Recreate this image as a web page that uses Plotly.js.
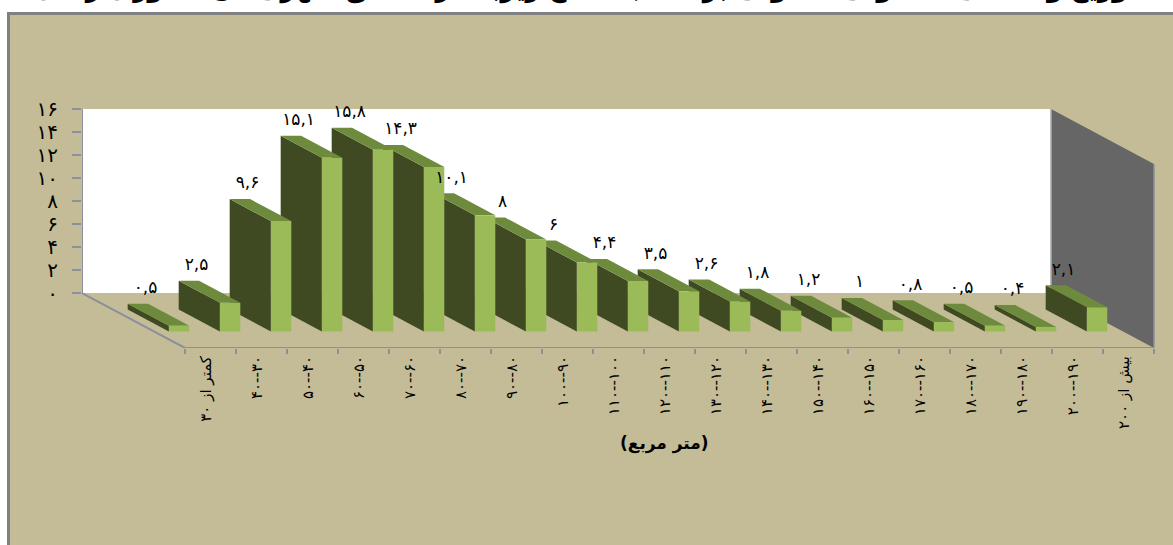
<!DOCTYPE html>
<html>
<head>
<meta charset="utf-8">
<script src="https://cdn.plot.ly/plotly-3.0.1.min.js"></script>
<style>html,body{margin:0;padding:0;background:#fff;overflow:hidden}#chart{width:1173px;height:545px}</style>
</head>
<body>
<div id="chart"></div>
<script>
const categories = ["کمتر از ۳۰","۴۰--۳۰","۵۰--۴۰","۶۰--۵۰","۷۰--۶۰","۸۰--۷۰","۹۰--۸۰","۱۰۰--۹۰","۱۱۰--۱۰۰","۱۲۰--۱۱۰","۱۳۰--۱۲۰","۱۴۰--۱۳۰","۱۵۰--۱۴۰","۱۶۰--۱۵۰","۱۷۰--۱۶۰","۱۸۰--۱۷۰","۱۹۰--۱۸۰","۲۰۰--۱۹۰","بیش از ۲۰۰"];
const values = [0.5,2.5,9.6,15.1,15.8,14.3,10.1,8,6,4.4,3.5,2.6,1.8,1.2,1,0.8,0.5,0.4,2.1];
const valueLabels = ["۰,۵","۲,۵","۹,۶","۱۵,۱","۱۵,۸","۱۴,۳","۱۰,۱","۸","۶","۴,۴","۳,۵","۲,۶","۱,۸","۱,۲","۱","۰,۸","۰,۵","۰,۴","۲,۱"];
const yTickValues = [0,2,4,6,8,10,12,14,16];
const yTickLabels = ["۰","۲","۴","۶","۸","۱۰","۱۲","۱۴","۱۶"];
const chartTitle = "توزیع واحدهای مسکونی معمولی بر حسب سطح زیربنا در مناطق شهری کل کشور (درصد)";
const xAxisTitle = "(متر مربع)";

// oblique projection of the 3D box onto the flat axes
const shearX = 2.02, shearY = 4.78;
const proj = (slot, depth, val) => [slot - (1 - depth) * shearX, val - depth * shearY];
const poly = (pts, color) => ({
  type:"scatter", mode:"lines", x:pts.map(p=>p[0]), y:pts.map(p=>p[1]),
  fill:"toself", fillcolor:color, line:{width:0}, hoverinfo:"skip", showlegend:false
});
const seg = (pts, color, w) => ({
  type:"scatter", mode:"lines", x:pts.map(p=>p[0]), y:pts.map(p=>p[1]),
  line:{color:color,width:w}, hoverinfo:"skip", showlegend:false, cliponaxis:false
});

const n = categories.length, yMax = 16;
const cFront="#9BBB59", cSide="#3F4A22", cTop="#6E8B3D", cWall="#666666", cAxis="#8C8F9C", cBg="#C4BC96";
const traces = [];
traces.push(poly([proj(0,0,0),proj(n,0,0),proj(n,0,yMax),proj(0,0,yMax)],"#FFFFFF"));
traces.push(poly([proj(n,0,0),proj(n,1,0),proj(n,1,yMax),proj(n,0,yMax)],cWall));
traces.push(seg([proj(0,0,yMax),proj(0,0,0),proj(0,1,0),proj(n,1,0)],cAxis,2));
traces.push(seg([proj(n,0,0),proj(n,0,yMax)],"#B0B0B0",1.5));
traces.push(seg([proj(n,1,0),proj(n,1,yMax)],cAxis,1.5));

const x0=0.29, x1=0.69, dB=0.30, dF=0.70;
for (let i=n-1;i>=0;i--){
  const v=values[i], a=i+x0, b=i+x1;
  traces.push(poly([proj(a,dB,0),proj(a,dF,0),proj(a,dF,v),proj(a,dB,v)],cSide));
  traces.push(poly([proj(a,dB,v),proj(b,dB,v),proj(b,dF,v),proj(a,dF,v)],cTop));
  traces.push(poly([proj(a,dF,0),proj(b,dF,0),proj(b,dF,v),proj(a,dF,v)],cFront));
}
// data labels
traces.push({
  type:"scatter", mode:"text", cliponaxis:false, hoverinfo:"skip", showlegend:false,
  x:values.map((v,i)=>proj(i+x0,dB,v)[0]+0.35),
  y:values.map((v,i)=>proj(i+x0,dB,v)[1]+1.3),
  text:valueLabels, textposition:"middle center",
  textfont:{family:"DejaVu Sans",size:17,color:"#000"}
});
// carrier for the category label axis
traces.push({type:"scatter",mode:"markers",x:[0],y:[0],xaxis:"x2",marker:{opacity:0},hoverinfo:"skip",showlegend:false});

const xr=[-shearX,n+0.02], yr=[-shearY,yMax];
const layout = {
  width:1173, height:545,
  margin:{l:82,r:18,t:109,b:197,pad:0},
  paper_bgcolor:"#FFFFFF", plot_bgcolor:"rgba(0,0,0,0)",
  showlegend:false,
  title:{text:chartTitle,font:{family:"DejaVu Sans",size:25,color:"#000",weight:"bold"},
         x:0.5,xref:"container",xanchor:"center",y:1,yref:"container",yanchor:"bottom",pad:{b:3}},
  xaxis:{range:xr,tickmode:"array",tickvals:Array.from({length:n+1},(_,i)=>i),showticklabels:false,
         ticks:"outside",ticklen:5,tickwidth:2,tickcolor:cAxis,showgrid:false,zeroline:false,showline:false},
  xaxis2:{range:xr,overlaying:"x",side:"bottom",anchor:"y",tickmode:"array",
          tickvals:categories.map((c,i)=>i+0.42),ticktext:categories,tickangle:-90,
          ticks:"",ticklabelstandoff:4,
          tickfont:{family:"DejaVu Sans",size:15,color:"#000"},showgrid:false,zeroline:false,showline:false},
  yaxis:{range:yr,tickmode:"array",tickvals:yTickValues,ticktext:yTickLabels,ticks:"outside",ticklen:9,tickwidth:2,
         tickcolor:cAxis,ticklabelstandoff:10,tickfont:{family:"DejaVu Sans",size:20,color:"#000"},
         showgrid:false,zeroline:false,showline:false},
  shapes:[{type:"rect",xref:"paper",yref:"paper",layer:"below",
           x0:-73.5/1073,x1:1.03,y0:-197/239-0.02,y1:1+95.5/239,
           fillcolor:cBg,line:{color:"#808080",width:3}}],
  annotations:[{text:xAxisTitle,xref:"x",yref:"paper",x:9.41,y:-(443-348)/239,showarrow:false,
    xanchor:"center",yanchor:"middle",font:{family:"DejaVu Sans",size:17,color:"#000",weight:"bold"}}]
};
Plotly.newPlot("chart",traces,layout,{displayModeBar:false,staticPlot:true});
</script>
</body>
</html>
